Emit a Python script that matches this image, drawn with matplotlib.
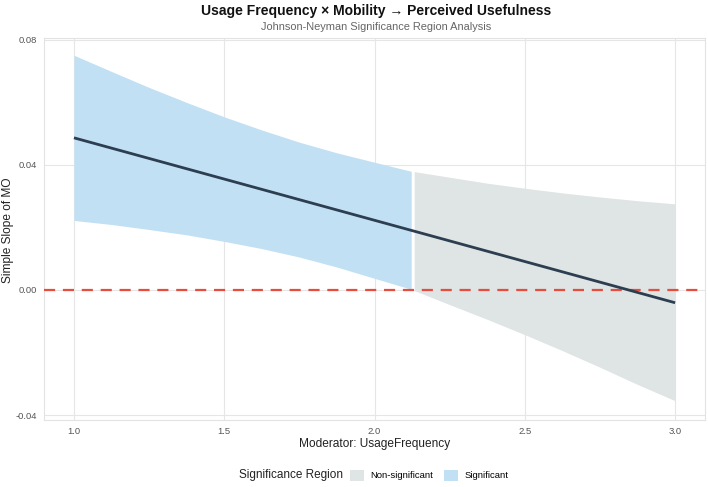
import matplotlib
matplotlib.use("Agg")
from matplotlib import pyplot as plt
from matplotlib.patches import Patch
import numpy as np

plt.rcParams['font.family'] = ['Liberation Sans', 'DejaVu Sans']
plt.rcParams['axes.unicode_minus'] = False

# simple slope of MO along the moderator, with confidence band
x_sig = [1.0, 1.125, 1.25, 1.375, 1.5, 1.625, 1.75, 1.875, 2.0, 2.122]
lo_sig = [0.0222, 0.0209, 0.0193, 0.0176, 0.0155, 0.0132, 0.0105, 0.0073, 0.0037, 0.0002]
hi_sig = [0.0750, 0.0698, 0.0647, 0.0599, 0.0553, 0.0511, 0.0472, 0.0438, 0.0408, 0.0379]

x_ns = [2.132, 2.25, 2.375, 2.5, 2.625, 2.75, 2.875, 3.0]
lo_ns = [-0.0002, -0.0047, -0.0094, -0.0143, -0.0194, -0.0247, -0.0302, -0.0354]
hi_ns = [0.0378, 0.0360, 0.0341, 0.0325, 0.0310, 0.0297, 0.0285, 0.0275]

x_line = [1.0, 3.0]
slope_line = [0.0486, -0.0041]

xticks = [1.0, 1.5, 2.0, 2.5, 3.0]
yticks = [-0.04, 0.00, 0.04, 0.08]

fig = plt.figure(figsize=(7.08, 4.87), dpi=100)
ax = fig.add_axes([0.062, 0.138, 0.934, 0.784])

blue = '#c2e0f4'
grey = '#dfe4e4'
ax.fill_between(x_sig, lo_sig, hi_sig, color=blue, lw=0, zorder=2)
ax.fill_between(x_ns, lo_ns, hi_ns, color=grey, lw=0, zorder=2)
ax.axhline(0, color='#e74c3c', lw=1.6, ls=(0, (5, 3.5)), zorder=3)
ax.plot(x_line, slope_line, color='#2c3e50', lw=2.0, zorder=4, solid_capstyle='butt')

ax.set_xlim(0.9, 3.1)
ax.set_ylim(-0.0415, 0.0805)
ax.set_xticks(xticks)
ax.set_xticklabels(['%.1f' % t for t in xticks])
ax.set_yticks(yticks)
ax.set_yticklabels(['%.2f' % t for t in yticks])
ax.grid(True, color='#e6e6e6', lw=0.8, zorder=0)
ax.set_axisbelow(True)
ax.tick_params(length=0, labelsize=6.8, labelcolor='#555555')
ax.tick_params(axis='y', pad=5)
ax.tick_params(axis='x', pad=5)
for s in ax.spines.values():
    s.set_color('#e3e3e3')
    s.set_linewidth(0.8)

fig.text(0.529, 0.088, 'Moderator: UsageFrequency', ha='center', va='center',
         fontsize=8.6, color='#222222')
fig.text(0.012, 0.528, 'Simple Slope of MO', ha='center', va='center',
         rotation=90, fontsize=8.6, color='#222222')

fig.text(0.531, 0.977, 'Usage Frequency \u00d7 Mobility \u2192 Perceived Usefulness',
         ha='center', va='center', fontsize=10, fontweight='bold', color='#111111')
fig.text(0.531, 0.945, 'Johnson-Neyman Significance Region Analysis',
         ha='center', va='center', fontsize=7.9, color='#666666')

fig.text(0.485, 0.024, 'Significance Region', ha='right', va='center', fontsize=8.5, color='#222222')
handles = [Patch(facecolor=grey, edgecolor='none'), Patch(facecolor=blue, edgecolor='none')]
fig.legend(handles, ['Non-significant', 'Significant'], loc='center left',
           bbox_to_anchor=(0.494, 0.024), ncol=2, frameon=False, fontsize=6.8,
           handlelength=1.5, handleheight=1.5, handletextpad=0.7, columnspacing=1.1,
           borderaxespad=0, borderpad=0)

fig.savefig('out.png', dpi=100)
